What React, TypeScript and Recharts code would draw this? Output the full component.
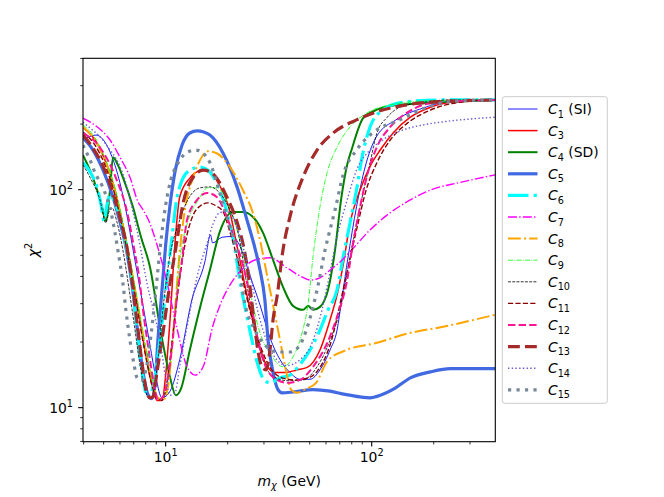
import React from "react";
import { LineChart, Line, XAxis, YAxis } from "recharts";

// chi^2 vs m_chi (GeV), log-log.
const c1X = [3.97, 4.59, 5.37, 5.86, 6.41, 7.02, 7.68, 8.39, 8.97, 9.6, 10.5, 11.7, 13.4, 15.5, 16.5, 16.9, 18.8, 21.0, 22.9, 25.6, 28.7, 32.1, 35.9, 40.1, 44.9, 50.2, 56.1, 62.8, 67.9, 71.5, 76.8, 84.4, 92.9, 105, 131, 178, 229, 398];
const c1Y = [169, 178, 149, 117, 80.8, 50.2, 31.2, 19.4, 13.7, 11.1, 11.9, 16.6, 31.2, 46.7, 62, 57, 60.5, 61, 55.3, 40.6, 29.6, 20.9, 16.6, 14.5, 13.5, 13.5, 14.9, 18.4, 22.7, 31.2, 49.1, 83.4, 127, 174, 209, 237, 252, 258];

const c3X = [3.97, 4.54, 5.07, 5.67, 6.34, 7.1, 7.93, 8.58, 9.07, 9.6, 10.0, 10.5, 11.1, 11.7, 13.1, 14.7, 16.0, 17.9, 20.1, 22.4, 25.1, 28.0, 30.7, 33.9, 37.9, 43.4, 48.6, 56.1, 62.8, 67.9, 72.7, 78.5, 87.8, 98.2, 110, 127, 154, 193, 241, 398];
const c3Y = [192, 169, 137, 99.7, 62, 34.7, 18.4, 12.7, 10.8, 10.8, 14.1, 25.3, 57, 92.6, 113, 122, 123, 108, 85.1, 52.9, 31.2, 20.4, 15.8, 14.5, 14.5, 14.9, 15.3, 18.4, 25.3, 32.9, 45.2, 70.5, 99.7, 128, 152, 182, 215, 239, 252, 258];

const c4X = [3.97, 4.29, 4.65, 4.93, 5.12, 5.37, 5.55, 5.86, 6.2, 6.94, 7.59, 8.39, 9.49, 10.5, 11.2, 11.9, 13.1, 14.7, 16.4, 18.3, 21.2, 23.7, 26.2, 29.7, 33.2, 37.1, 41.5, 46.4, 49.2, 51.9, 56.1, 61.4, 66.4, 71.0, 76.0, 80.3, 90.8, 102, 123, 177, 398];
const c4Y = [144, 123, 99.7, 82.5, 71.8, 99.7, 141, 130, 114, 83.3, 60.7, 44.2, 22.0, 13.8, 11.4, 12.3, 18.4, 28.9, 42.8, 64.0, 79.1, 79.1, 75.8, 63.4, 47.6, 35.8, 29.3, 28.1, 29.3, 28.1, 29.0, 34.7, 52.9, 89.7, 130, 155, 213, 229, 242, 249, 258];

const c5X = [3.97, 4.44, 4.97, 5.55, 6.0, 6.41, 6.89, 7.34, 7.76, 8.2, 8.58, 8.87, 9.17, 9.6, 10.0, 10.5, 11.1, 12.0, 13.1, 14.2, 15.3, 16.4, 19.0, 22.2, 24.8, 27.1, 28.7, 30.3, 31.4, 33.2, 35.1, 36.7, 41.5, 51.9, 62.8, 74.2, 87.8, 98.2, 110, 130, 154, 193, 241, 398];
const c5Y = [173, 152, 123, 92.6, 71.2, 54.6, 35.8, 21.6, 14.6, 11.5, 11.0, 12.7, 20.4, 34.7, 55.8, 85.1, 121, 160, 182, 186, 184, 178, 147, 103, 72.7, 54.1, 42.8, 31.2, 20.4, 14.5, 12.1, 11.7, 11.8, 12.1, 11.9, 11.5, 11.2, 11.1, 11.4, 12.3, 13.7, 14.6, 15.1, 15.1];

const c6X = [3.97, 4.29, 4.65, 4.86, 5.02, 5.19, 5.37, 5.67, 6.0, 6.41, 6.89, 7.1, 7.34, 7.76, 8.11, 8.39, 8.68, 9.38, 10.1, 10.7, 11.3, 11.7, 13.1, 14.7, 16.0, 17.7, 19.8, 21.2, 22.9, 25.6, 28.0, 30.0, 32.1, 35.9, 40.1, 44.9, 50.2, 56.1, 61.4, 67.9, 72.7, 78.5, 84.4, 89.8, 98.2, 113, 142, 215, 398];
const c6Y = [133, 121, 102, 85.1, 71.9, 85.1, 94.6, 87, 75, 55.8, 37.3, 28.1, 20.4, 13.7, 11.3, 11.2, 12.5, 20.4, 37.3, 58.8, 89.7, 103, 123, 127, 123, 107, 79.6, 60.7, 38.5, 22.7, 15.8, 13.4, 13.0, 13.7, 14.1, 15.8, 18.4, 22.7, 28.1, 34.7, 49.1, 70.5, 99.7, 141, 194, 232, 252, 258, 258];

const c7X = [3.97, 4.59, 5.37, 6.0, 6.71, 7.34, 7.76, 8.39, 9.07, 10.1, 11.3, 12.7, 13.9, 15.2, 16.9, 18.3, 20.5, 22.9, 27.1, 32.1, 38.8, 44.9, 50.2, 56.1, 62.8, 70.2, 78.5, 98.2, 123, 154, 193, 269, 398];
const c7Y = [213, 196, 169, 141, 114, 88, 81, 70, 56, 38.5, 23.5, 15.4, 14.1, 15.4, 23.5, 29.3, 36.5, 42.0, 47.6, 48.7, 43.8, 40.2, 38.5, 39.4, 42.8, 46.6, 51.9, 65.4, 78.4, 89.7, 99.7, 108, 117];

const c8X = [3.97, 4.54, 5.07, 5.67, 6.34, 7.1, 7.93, 8.58, 9.17, 9.7, 10.3, 10.7, 11.2, 11.6, 12.4, 13.6, 14.7, 16.0, 17.7, 19.8, 23.7, 26.2, 28.7, 30.7, 33.2, 35.9, 38.8, 40.6, 43.4, 48.0, 53.7, 60.8, 75.6, 105, 153, 222, 398];
const c8Y = [194, 169, 137, 99.7, 62, 34.7, 19.4, 13.4, 11.1, 10.8, 12.7, 18.4, 31.2, 47.6, 80.8, 114, 137, 150, 147, 133, 99.7, 80.8, 58.8, 42.8, 29.6, 20.4, 14.1, 12.1, 11.7, 12.2, 13.0, 16.3, 18.4, 19.8, 22.0, 23.5, 26.7];

const c9X = [3.97, 4.54, 5.07, 5.67, 6.34, 7.1, 7.93, 8.58, 9.07, 9.6, 10.3, 11.0, 11.7, 12.8, 14.4, 16.0, 17.4, 18.8, 20.5, 22.9, 25.6, 28.7, 32.1, 37.1, 41.5, 45.9, 49.2, 51.9, 56.1, 60.8, 67.9, 78.5, 95.0, 123, 193, 398];
const c9Y = [198, 173, 140, 102, 64, 35.8, 19.8, 13.4, 11.2, 10.8, 13.4, 25.3, 47.6, 71.1, 89.7, 102, 102, 97.6, 80.8, 58.8, 34.7, 22.0, 17.8, 15.4, 17.1, 22.0, 30.3, 49.1, 83.4, 120, 157, 194, 225, 245, 256, 258];

const c10X = [3.97, 4.29, 4.8, 5.12, 5.31, 5.49, 5.8, 6.2, 6.63, 7.1, 7.5, 7.93, 8.3, 8.68, 9.17, 9.81, 10.5, 11.5, 12.8, 14.7, 16.4, 18.3, 20.5, 22.2, 24.8, 27.8, 30.3, 32.6, 38.8, 46.4, 54.3, 62.8, 70.2, 78.5, 87.8, 98.2, 106, 119, 137, 166, 241, 398];
const c10Y = [130, 114, 89.7, 70.5, 79.2, 82.5, 71.2, 52.9, 35.4, 22.7, 15.8, 12.1, 11.1, 11.4, 16.6, 31.2, 50.2, 68.9, 89.7, 102, 103, 96.6, 80.8, 66.8, 36.5, 20.4, 15.8, 14.1, 13.3, 13.4, 15.4, 20.4, 28.1, 49.1, 83.4, 133, 182, 215, 239, 249, 258, 258];

const c11X = [3.97, 4.54, 5.07, 5.67, 6.34, 7.1, 7.93, 8.58, 9.07, 9.6, 10.1, 10.7, 11.5, 12.4, 13.6, 14.7, 16.0, 17.6, 19.0, 20.5, 22.9, 25.6, 28.7, 32.1, 36.7, 42.4, 50.2, 56.1, 62.8, 72.7, 84.4, 94.0, 106, 123, 149, 193, 269, 398];
const c11Y = [184, 160, 130, 94.6, 58.8, 32.9, 18.0, 12.7, 11.0, 10.8, 12.7, 19.4, 34.7, 55.8, 76.6, 84.2, 87.0, 84.2, 79.2, 64, 43.8, 28.1, 19.4, 15.3, 13.7, 13.4, 13.8, 15.3, 19.4, 34.7, 65.4, 99.7, 133, 169, 202, 232, 252, 258];

const c12X = [3.97, 4.8, 5.74, 6.55, 7.02, 7.5, 7.76, 8.2, 8.87, 9.17, 9.7, 10.3, 10.7, 11.3, 12.0, 12.7, 14.2, 15.9, 17.7, 19.8, 21.7, 23.7, 25.6, 27.1, 29.7, 33.2, 38.8, 44.9, 51.9, 60.8, 67.9, 76.0, 81.2, 87.8, 94.5, 106, 123, 148, 193, 398];
const c12Y = [182, 156, 113, 76.6, 54.1, 37.3, 28.1, 19.4, 12.1, 10.8, 11.2, 14.1, 18.4, 31.2, 47.6, 72.7, 89.7, 96.6, 92.6, 75.0, 58.8, 45.2, 32.9, 24.0, 16.6, 13.8, 13.0, 13.4, 15.4, 19.8, 26.1, 38.5, 57.0, 83.4, 114, 157, 194, 225, 249, 258];

const c13X = [3.97, 4.44, 4.97, 5.55, 6.0, 6.41, 6.89, 7.34, 7.76, 8.11, 8.39, 8.68, 9.07, 9.7, 10.5, 11.3, 12.1, 13.6, 15.2, 16.4, 17.7, 19.8, 22.2, 24.2, 25.6, 26.8, 28.0, 29.3, 30.7, 32.1, 33.2, 34.7, 37.1, 40.1, 46.4, 54.3, 65.0, 84.4, 113, 148, 193, 398];
const c13Y = [178, 155, 128, 96.6, 74.3, 57.6, 37.3, 22.7, 14.9, 11.7, 11.1, 11.2, 14.5, 22.0, 37.3, 57.0, 85.1, 114, 123, 121, 113, 92.6, 71.1, 51.6, 36.5, 25.3, 18.4, 15.4, 14.9, 18.4, 25.3, 32.2, 52.9, 75.0, 114, 152, 182, 209, 232, 245, 252, 258];

const c14X = [3.97, 4.29, 4.8, 5.37, 5.74, 6.34, 6.94, 7.5, 8.11, 8.68, 9.38, 10.0, 10.5, 11.1, 11.7, 12.7, 14.2, 15.9, 16.9, 18.3, 19.8, 21.7, 24.8, 28.7, 33.2, 38.8, 44.9, 50.2, 56.1, 61.4, 67.9, 76.0, 84.4, 98.2, 113, 142, 177, 215, 301, 398];
const c14Y = [204, 192, 175, 152, 139, 111, 79.2, 55.8, 37.3, 28.5, 20.4, 13.7, 11.4, 11.7, 15.4, 23.5, 39.8, 57.0, 68.9, 78.4, 79.2, 71.1, 46.6, 25.3, 17.5, 15.6, 16.6, 18.9, 25.8, 37.7, 60.7, 89.7, 123, 152, 169, 188, 198, 204, 211, 215];

const c15X = [3.97, 4.29, 4.59, 4.92, 5.49, 5.86, 6.2, 6.41, 6.71, 7.02, 7.26, 7.59, 8.02, 8.49, 8.87, 9.38, 10.0, 10.6, 11.5, 12.8, 14.0, 15.2, 16.4, 18.3, 20.5, 22.2, 23.2, 24.2, 27.1, 30.3, 35.1, 40.1, 44.9, 48.6, 54.3, 59.4, 66.4, 72.7, 84.4, 101, 137, 193, 269, 398];
const c15Y = [160, 137, 117, 104, 75, 52.9, 37.3, 28.1, 20.4, 15.8, 13.7, 13.3, 14.9, 21.6, 31.2, 52.9, 85.1, 111, 133, 149, 152, 147, 133, 96.6, 67.4, 51.3, 38.5, 30.3, 22.7, 19.4, 18.0, 18.0, 19.4, 23.3, 34.7, 52.9, 80.8, 117, 152, 182, 209, 242, 256, 258];

const xTicks = [4, 5, 6, 7, 8, 9, 10, 20, 30, 40, 50, 60, 70, 80, 90, 100, 200, 300];
const yTicks = [7, 8, 9, 10, 20, 30, 40, 50, 60, 70, 80, 90, 100, 200, 300, 400];

const FONT = "DejaVu Sans, sans-serif";

// matplotlib dash patterns, scaled by line width
const dashed = (w: number) => `${3.7 * w} ${1.6 * w}`;
const dashdot = (w: number) => `${6.4 * w} ${1.6 * w} ${w} ${1.6 * w}`;
const dotted = (w: number) => `${w} ${1.65 * w}`;

const zip = (xs: number[], ys: number[]) => xs.map((x, i) => ({ x, y: ys[i] }));

const series = [
  { idx: "1", suffix: " (SI)", data: zip(c1X, c1Y), color: "#0000ff", width: 0.9 },
  { idx: "3", suffix: "", data: zip(c3X, c3Y), color: "#ff0000", width: 1.5 },
  { idx: "4", suffix: " (SD)", data: zip(c4X, c4Y), color: "#008000", width: 2 },
  { idx: "5", suffix: "", data: zip(c5X, c5Y), color: "#4169e1", width: 3.2 },
  { idx: "6", suffix: "", data: zip(c6X, c6Y), color: "#00ffff", width: 3.2, dash: dashdot(3.2) },
  { idx: "7", suffix: "", data: zip(c7X, c7Y), color: "#ff00ff", width: 1.4, dash: dashdot(1.4) },
  { idx: "8", suffix: "", data: zip(c8X, c8Y), color: "#ffa500", width: 2, dash: dashdot(2) },
  { idx: "9", suffix: "", data: zip(c9X, c9Y), color: "#00ff00", width: 0.8, dash: dashdot(0.8) },
  { idx: "10", suffix: "", data: zip(c10X, c10Y), color: "#000000", width: 0.8, dash: dashed(0.8) },
  { idx: "11", suffix: "", data: zip(c11X, c11Y), color: "#8b0000", width: 1.4, dash: dashed(1.4) },
  { idx: "12", suffix: "", data: zip(c12X, c12Y), color: "#ff1493", width: 2, dash: dashed(2) },
  { idx: "13", suffix: "", data: zip(c13X, c13Y), color: "#a52a2a", width: 3.2, dash: dashed(3.2) },
  { idx: "14", suffix: "", data: zip(c14X, c14Y), color: "#6a5acd", width: 1.4, dash: dotted(1.4) },
  { idx: "15", suffix: "", data: zip(c15X, c15Y), color: "#778899", width: 3.2, dash: dotted(3.2) },
];

function XTick(props: any) {
  const { x, y, payload } = props;
  const v = payload.value;
  const major = v === 10 || v === 100;
  return (
    <g>
      <line x1={x} x2={x} y1={y} y2={y + (major ? 4.9 : 2.8)} stroke="#000" strokeWidth={major ? 1.1 : 0.8} />
      {major && (
        <text x={x} y={y + 20} textAnchor="middle" fontSize={13.9} fontFamily={FONT} fill="#000">
          10<tspan dy={-6} fontSize={9.7}>{v === 10 ? "1" : "2"}</tspan>
        </text>
      )}
    </g>
  );
}

function YTick(props: any) {
  const { x, y, payload } = props;
  const v = payload.value;
  const major = v === 10 || v === 100;
  return (
    <g>
      <line x1={x} x2={x - (major ? 4.9 : 2.8)} y1={y} y2={y} stroke="#000" strokeWidth={major ? 1.1 : 0.8} />
      {major && (
        <text x={x - 10} y={y + 5} textAnchor="end" fontSize={13.9} fontFamily={FONT} fill="#000">
          10<tspan dy={-6} fontSize={9.7}>{v === 10 ? "1" : "2"}</tspan>
        </text>
      )}
    </g>
  );
}

export default function App() {
  return (
    <div style={{ position: "absolute", left: 0, top: 0, width: 664, height: 497, background: "#fff" }}>
      <LineChart width={664} height={497} margin={{ top: 58.3, right: 168.7, bottom: 25.3, left: 43 }}>
        <XAxis
          dataKey="x"
          type="number"
          scale="log"
          domain={[3.97, 398]}
          allowDataOverflow
          ticks={xTicks}
          interval={0}
          tick={(p: any) => <XTick {...p} />}
          tickLine={false}
          axisLine={false}
          tickSize={0}
          tickMargin={0}
          height={30}
        />
        <YAxis
          type="number"
          scale="log"
          domain={[6.98, 400.6]}
          allowDataOverflow
          ticks={yTicks}
          interval={0}
          tick={(p: any) => <YTick {...p} />}
          tickLine={false}
          axisLine={false}
          tickSize={0}
          tickMargin={0}
          width={40}
        />
        {series.map((s) => (
          <Line
            key={s.idx}
            data={s.data}
            dataKey="y"
            type="monotone"
            stroke={s.color}
            strokeWidth={s.width}
            strokeDasharray={s.dash}
            strokeLinejoin="round"
            dot={false}
            activeDot={false}
            isAnimationActive={false}
          />
        ))}
      </LineChart>

      {/* spines, axis labels and legend */}
      <svg width={664} height={497} style={{ position: "absolute", left: 0, top: 0, pointerEvents: "none" }}>
        <rect x={83} y={58.3} width={412.3} height={383.4} fill="none" stroke="#000" strokeWidth={1.1} />
        <text x={289.2} y={486} textAnchor="middle" fontSize={13.9} fontFamily={FONT} fill="#000" style={{ whiteSpace: "pre" }}>
          <tspan fontStyle="italic">m</tspan>
          <tspan fontStyle="italic" fontSize={9.7} dy={3}>χ</tspan>
          <tspan dy={-3}>{" (GeV)"}</tspan>
        </text>
        <text transform="translate(38,250) rotate(-90)" textAnchor="middle" fontSize={13.9} fontFamily={FONT} fill="#000">
          <tspan fontStyle="italic">χ</tspan>
          <tspan fontSize={9.7} dy={-6}>2</tspan>
        </text>

        <rect x={502.3} y={96.7} width={105} height={306.6} rx={2.5} fill="#fff" fillOpacity={0.8} stroke="#cccccc" strokeWidth={1} />
        {series.map((s, i) => {
          const yy = 109 + 21.6 * i;
          return (
            <g key={s.idx}>
              <line x1={508} x2={537.5} y1={yy} y2={yy} stroke={s.color} strokeWidth={s.width} strokeDasharray={s.dash} />
              <text x={548} y={yy + 5} fontSize={13.9} fontFamily={FONT} fill="#000" style={{ whiteSpace: "pre" }}>
                <tspan fontStyle="italic">C</tspan>
                <tspan fontSize={9.7} dy={3.5}>{s.idx}</tspan>
                {s.suffix ? <tspan dy={-3.5}>{s.suffix}</tspan> : null}
              </text>
            </g>
          );
        })}
      </svg>
    </div>
  );
}
